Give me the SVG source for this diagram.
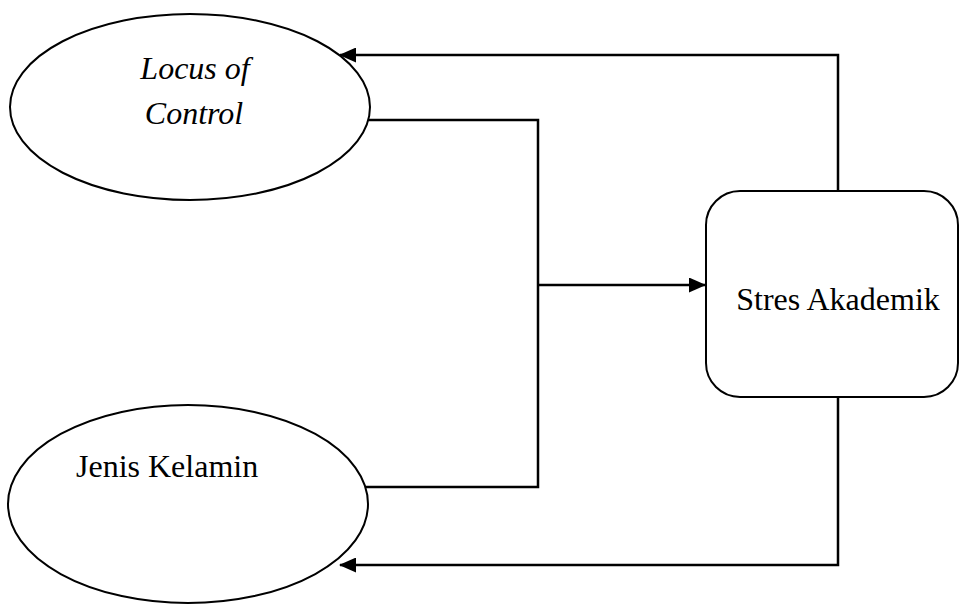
<svg xmlns="http://www.w3.org/2000/svg" width="961" height="606" viewBox="0 0 961 606">
<style>
.node{fill:#fff;stroke:#000;stroke-width:2}
.lbl{font-family:"Liberation Serif","Times New Roman",serif;font-size:32px;fill:#000}
.conn{fill:none;stroke:#000;stroke-width:2.5}
</style>
<defs>
<marker id="arr" markerWidth="17" markerHeight="15" refX="16" refY="7.5" orient="auto" markerUnits="userSpaceOnUse">
<path d="M0,0 L17,7.5 L0,15 Z" fill="#000"/>
</marker>
</defs>
<rect width="961" height="606" fill="#fff"/>
<g id="connectors">
<path class="conn" d="M368,120 H538 V487 H365"/>
<path class="conn" d="M538,285 H705" marker-end="url(#arr)"/>
<path class="conn" d="M838,191 V55 H340" marker-end="url(#arr)"/>
<path class="conn" d="M838,397 V565 H340" marker-end="url(#arr)"/>
</g>
<g id="locus">
<ellipse class="node" cx="190" cy="107" rx="180" ry="93"/>
<text class="lbl" x="195" y="79" text-anchor="middle" font-style="italic">Locus of</text>
<text class="lbl" x="194" y="124" text-anchor="middle" font-style="italic">Control</text>
</g>
<g id="jenis">
<ellipse class="node" cx="188" cy="504" rx="180" ry="99"/>
<text class="lbl" x="76" y="477">Jenis Kelamin</text>
</g>
<g id="stres">
<rect class="node" x="706" y="191" width="252" height="206" rx="34" ry="34"/>
<text class="lbl" x="838" y="310" text-anchor="middle">Stres Akademik</text>
</g>
</svg>
